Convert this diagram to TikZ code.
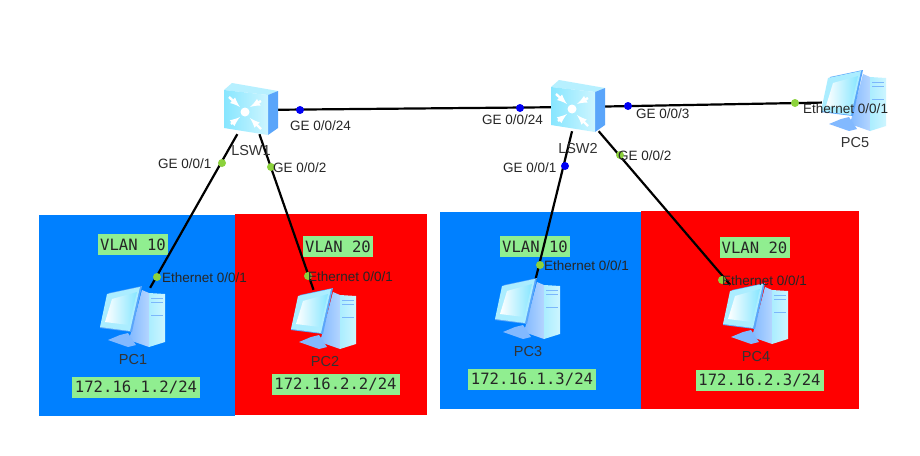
\documentclass[tikz,border=0pt]{standalone}
\usepackage{fontspec}
\setmainfont{Liberation Sans}
\newfontfamily\boxfont{DejaVu Sans Mono}
\definecolor{vlan_blue}{RGB}{0,128,255}
\definecolor{vlan_red}{RGB}{255,0,0}
\definecolor{tag_green}{RGB}{144,238,144}
\definecolor{port_green}{RGB}{140,210,60}
\definecolor{port_blue}{RGB}{0,0,245}
\definecolor{icon_light}{RGB}{205,245,255}
\definecolor{icon_mid}{RGB}{135,230,255}
\definecolor{icon_side}{RGB}{90,165,250}
\definecolor{icon_pale}{RGB}{130,185,255}
\tikzset{
  devbox/.style={rectangle, inner sep=0pt, minimum width=54pt, minimum height=48pt},
  pcbox/.style={rectangle, inner sep=0pt, minimum width=64pt, minimum height=60pt},
  link/.style={black, line width=2.2pt},
  gedot/.style={circle, inner sep=0pt, minimum size=8pt, fill=port_green},
  bldot/.style={circle, inner sep=0pt, minimum size=8pt, fill=port_blue},
  portlabel/.style={anchor=west, inner sep=0pt, font=\fontsize{13.5}{15}\selectfont, text=black!85},
  devlabel/.style={inner sep=0pt, font=\fontsize{14.5}{16}\selectfont, text=black!80},
  vlantag/.style={fill=tag_green, inner sep=0pt, minimum width=70pt, minimum height=21pt, text=black!85,
    font=\boxfont\fontsize{15.6}{17}\selectfont},
  iptag/.style={fill=tag_green, inner sep=0pt, minimum width=128pt, minimum height=21pt, text=black!85,
    font=\boxfont\fontsize{15.6}{17}\selectfont},
}
\newcommand{\switchicon}[1]{% #1 = node name
  \begin{scope}[shift={(#1)}]
    \fill[icon_mid!60!white] (-27,-20) -- (-19,-27) -- (27,-19) -- (17,-15) -- cycle;
    \fill[icon_side] (17,-15) -- (27,-19) -- (27,18) -- (17,25) -- cycle;
    \shade[left color=icon_mid, right color=icon_light] (-27,-20) -- (17,-15) -- (17,25) -- (-27,18) -- cycle;
    \foreach \xa/\ya/\xb/\yb in {-22/-13/-11/-3, 10/-9/-1/-3, -20/14/-11/7, 10/19/-1/8}
      \draw[white, line width=2.4pt, -latex] (\xa,\ya) -- (\xb,\yb);
    \fill[white] (-6,2) circle (4.5pt);
  \end{scope}
}
\newcommand{\pcicon}[1]{% #1 = node name
  \begin{scope}[shift={(#1)}]
    \shade[left color=icon_pale, right color=icon_pale!60!white] (9,-28) -- (16,-25) -- (16,29) -- (-4,22) -- cycle;
    \shade[left color=icon_mid!70!white, right color=icon_light] (16,-25) -- (32,-24) -- (32,24) -- (16,29) -- cycle;
    \foreach \yy in {-20,-16,-3} \draw[icon_side!80!white, line width=0.8pt] (18,\yy) -- (30,\yy);
    \fill[icon_pale] (-25,22) -- (-13,17) -- (-5,15) -- (3,27) -- (-5,29) -- cycle;
    \fill[icon_side] (-24,-25) -- (9,-32) -- (-1,14) -- (-33,10) -- cycle;
    \fill[icon_mid!70!white] (-26,-24) -- (7,-31) -- (-3,13) -- (-33,9) -- cycle;
    \shade[left color=white, right color=icon_mid] (-21,-19) -- (4,-26) -- (-4,7) -- (-28,4) -- cycle;
  \end{scope}
}
\begin{document}
\begin{tikzpicture}[x=1pt, y=-1pt]
  \useasboundingbox (0,0) rectangle (920,455);
  \fill[white] (0,0) rectangle (920,455);
  % vlan areas
  \fill[vlan_blue] (39,215) rectangle (235,416);
  \fill[vlan_red] (235,214) rectangle (427,415);
  \fill[vlan_blue] (440,212) rectangle (641,409);
  \fill[vlan_red] (641,211) rectangle (859,409);

  \node[vlantag] (vlan1) at (133,244.5) {VLAN 10};
  \node[vlantag] (vlan2) at (338,246.5) {VLAN 20};
  \node[vlantag] (vlan3) at (535,246.5) {VLAN 10};
  \node[vlantag] (vlan4) at (754.5,247.5) {VLAN 20};
  \node[iptag] (ip1) at (136,387.5) {172.16.1.2/24};
  \node[iptag] (ip2) at (335.5,384) {172.16.2.2/24};
  \node[iptag] (ip3) at (532,379) {172.16.1.3/24};
  \node[iptag] (ip4) at (759.5,380.5) {172.16.2.3/24};

  % devices
  \node[devbox] (lsw1) at (251,110) {};
  \node[devbox] (lsw2) at (578,107) {};
  \node[pcbox] (pc1) at (133,318) {};
  \node[pcbox] (pc2) at (324,320) {};
  \node[pcbox] (pc3) at (528,310) {};
  \node[pcbox] (pc4) at (756,315) {};
  \node[pcbox] (pc5) at (854,102) {};

  \draw[link] (lsw1) -- (pc1);
  \draw[link] (lsw1) -- (pc2);
  \draw[link] (lsw1) -- (lsw2);
  \draw[link] (lsw2) -- (pc3);
  \draw[link] (lsw2) -- (pc4);
  \draw[link] (lsw2) -- (pc5);

  \switchicon{lsw1}
  \switchicon{lsw2}
  \foreach \pcname in {pc1,pc2,pc3,pc4,pc5} {\pcicon{\pcname}}

  \node[devlabel] (lbl1) at (251,151) {LSW1};
  \node[devlabel] (lbl2) at (578,149) {LSW2};
  \node[devlabel] (lbl3) at (133,360) {PC1};
  \node[devlabel] (lbl4) at (325,362) {PC2};
  \node[devlabel] (lbl5) at (528,352) {PC3};
  \node[devlabel] (lbl6) at (756,357) {PC4};
  \node[devlabel] (lbl7) at (855,143) {PC5};

  % ports
  \node[gedot] (d1) at (222,163) {};
  \node[gedot] (d2) at (271,167) {};
  \node[gedot] (d3) at (157,277) {};
  \node[gedot] (d4) at (308,276) {};
  \node[gedot] (d5) at (540,265) {};
  \node[gedot] (d6) at (722,280) {};
  \node[gedot] (d7) at (620,155) {};
  \node[gedot] (d8) at (795,103) {};
  \node[bldot] (d9) at (300,110) {};
  \node[bldot] (d10) at (520,108) {};
  \node[bldot] (d11) at (628,106) {};
  \node[bldot] (d12) at (565,166) {};

  \node[portlabel] (p1) at (158,164) {GE 0/0/1};
  \node[portlabel] (p2) at (273,168) {GE 0/0/2};
  \node[portlabel] (p3) at (290,126) {GE 0/0/24};
  \node[portlabel] (p4) at (482,120) {GE 0/0/24};
  \node[portlabel] (p5) at (636,114) {GE 0/0/3};
  \node[portlabel] (p6) at (503,168) {GE 0/0/1};
  \node[portlabel] (p7) at (618,156) {GE 0/0/2};
  \node[portlabel] (p8) at (162,278) {Ethernet 0/0/1};
  \node[portlabel] (p9) at (308,277) {Ethernet 0/0/1};
  \node[portlabel] (p10) at (544,266) {Ethernet 0/0/1};
  \node[portlabel] (p11) at (722,281) {Ethernet 0/0/1};
  \node[portlabel] (p12) at (803,109) {Ethernet 0/0/1};
\end{tikzpicture}
\end{document}
